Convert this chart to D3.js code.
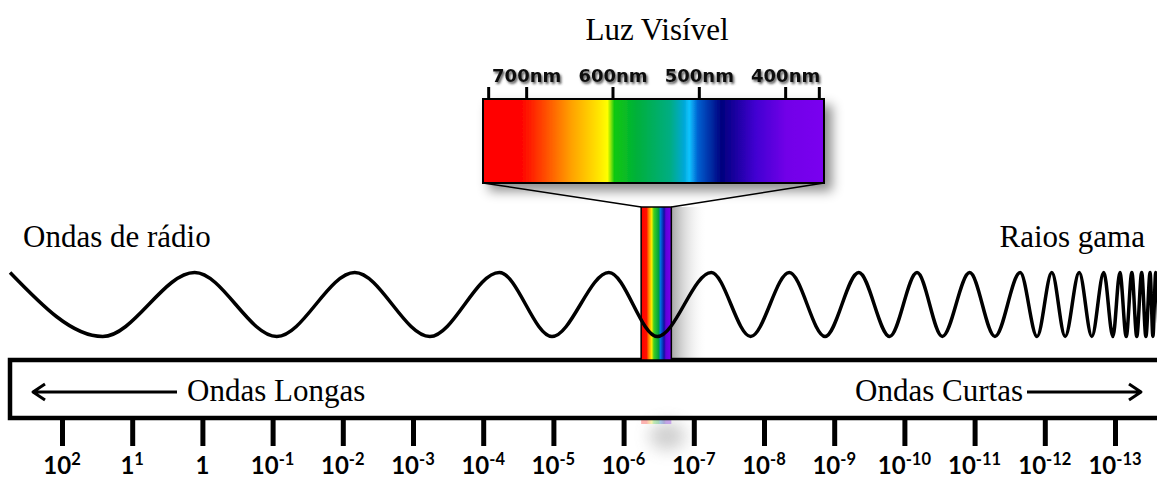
<!DOCTYPE html>
<html>
<head>
<meta charset="utf-8">
<script src="https://cdn.jsdelivr.net/npm/d3@7"></script>
<style>
  body { margin: 0; background: #fff; }
  svg { display: block; }
</style>
</head>
<body>
<div id="chart"></div>
<script>
var w = 1157;
var h = 481;

// wavelength axis: exponents of 10 (metres) and how the labels are written
var tickExps  = [2, 1, 0, -1, -2, -3, -4, -5, -6, -7, -8, -9, -10, -11, -12, -13];
var tickBases = ["10", "1", "1", "10", "10", "10", "10", "10", "10", "10", "10", "10", "10", "10", "10", "10"];
var tickSups  = ["2", "1", "", "-1", "-2", "-3", "-4", "-5", "-6", "-7", "-8", "-9", "-10", "-11", "-12", "-13"];

// visible light strip (nm)
var nmTicks  = [700, 600, 500, 400];
var nmEnds   = [744, 361];
var nmSpan   = [750, 355];

// where the visible band sits on the main axis (exponent units)
var visibleBand = [-6.25, -6.68];

// crests and troughs of the drawn wave, in exponent units (peak first, then alternating)
var waveExtrema = [2.74, 1.42, 0.11, -1.06, -2.17, -3.24, -4.23, -4.98, -5.79, -6.48,
                   -7.25, -7.81, -8.36, -8.87, -9.35, -9.79, -10.18, -10.54, -10.93, -11.29,
                   -11.65, -11.89, -12.10, -12.29, -12.49, -12.67, -12.84, -12.97, -13.07, -13.16,
                   -13.24, -13.31, -13.38, -13.44, -13.50, -13.54, -13.58, -13.63];

// labels
var titleText = "Luz Visível";
var leftName = "Ondas de rádio";
var rightName = "Raios gama";
var longText = "Ondas Longas";
var shortText = "Ondas Curtas";

var svg = d3.select("#chart")
    .append("svg")
    .attr("width", w)
    .attr("height", h);

var defs = svg.append("defs");

// spectrum colours
var spec = defs.append("linearGradient").attr("id", "spec")
    .attr("x1", "0%").attr("x2", "100%").attr("y1", "0%").attr("y2", "0%");
[[0, "#ff0000"], [0.11, "#ff0000"], [0.18, "#ff4a00"], [0.26, "#ffa200"], [0.34, "#ffe600"],
 [0.365, "#ffff00"], [0.385, "#10c810"], [0.45, "#00b03a"], [0.55, "#00ad84"], [0.59, "#00a8d8"],
 [0.605, "#10c4ff"], [0.63, "#0060d0"], [0.70, "#00007e"], [0.80, "#4200d2"], [0.89, "#7200e8"],
 [1, "#7a00f0"]].forEach(function(s) {
    spec.append("stop").attr("offset", s[0]).attr("stop-color", s[1]);
});

var col = defs.append("linearGradient").attr("id", "col")
    .attr("x1", "0%").attr("x2", "100%").attr("y1", "0%").attr("y2", "0%");
[[0, "#ff0000"], [0.18, "#ff1000"], [0.25, "#ff8000"], [0.35, "#ffee00"], [0.42, "#40d020"],
 [0.58, "#00a040"], [0.64, "#0070e0"], [0.76, "#1010a0"], [0.82, "#6000d8"], [1, "#7a00f0"]].forEach(function(s) {
    col.append("stop").attr("offset", s[0]).attr("stop-color", s[1]);
});

var colShade = defs.append("linearGradient").attr("id", "colShade")
    .attr("x1", "0%").attr("x2", "100%");
colShade.append("stop").attr("offset", 0).attr("stop-color", "#888").attr("stop-opacity", 0.75);
colShade.append("stop").attr("offset", 1).attr("stop-color", "#fff").attr("stop-opacity", 0);

defs.append("filter").attr("id", "boxShadow")
    .attr("x", "-10%").attr("y", "-20%").attr("width", "130%").attr("height", "160%")
  .append("feDropShadow")
    .attr("dx", 7).attr("dy", 7).attr("stdDeviation", 6)
    .attr("flood-color", "#000").attr("flood-opacity", 0.45);

defs.append("filter").attr("id", "textShadow")
  .append("feDropShadow")
    .attr("dx", 1.5).attr("dy", 2).attr("stdDeviation", 1.3)
    .attr("flood-color", "#333").attr("flood-opacity", 0.8);

defs.append("filter").attr("id", "blur")
    .attr("x", "-100%").attr("y", "-100%").attr("width", "300%").attr("height", "300%")
  .append("feGaussianBlur").attr("stdDeviation", 8);

// scales
var xScale = d3.scaleLinear().domain([2, -13]).range([62, 1115]);
var nmScale = d3.scaleLinear().domain(nmSpan).range([483, 824]);
var yWave = d3.scaleLinear().domain([-1, 1]).range([336.5, 272.5]);

var boxTop = 360, boxBottom = 418;
var specTop = 99, specBottom = 183;
var colTop = 207;

// shading to the right of the rainbow column
svg.append("rect")
    .attr("x", xScale(visibleBand[1]))
    .attr("y", colTop)
    .attr("width", 36)
    .attr("height", boxTop - colTop)
    .style("fill", "url(#colShade)");

// reflection under the main box
svg.append("ellipse")
    .attr("cx", xScale(visibleBand[1]) - 4).attr("cy", 436)
    .attr("rx", 18).attr("ry", 14)
    .style("fill", "#888").style("opacity", 0.4)
    .attr("filter", "url(#blur)");
svg.append("rect")
    .attr("x", xScale(visibleBand[0]))
    .attr("y", boxBottom + 2)
    .attr("width", xScale(visibleBand[1]) - xScale(visibleBand[0]))
    .attr("height", 4)
    .style("fill", "url(#col)").style("opacity", 0.3);

// visible spectrum box
svg.append("rect")
    .attr("x", nmScale(nmSpan[0]))
    .attr("y", specTop)
    .attr("width", nmScale(nmSpan[1]) - nmScale(nmSpan[0]))
    .attr("height", specBottom - specTop)
    .attr("filter", "url(#boxShadow)")
    .style("fill", "url(#spec)")
    .style("stroke", "#000")
    .style("stroke-width", 2);

// nm ticks
var nmAxis = svg.append("g")
    .attr("transform", "translate(0," + specTop + ")")
    .call(d3.axisTop(nmScale)
        .tickValues(nmEnds.concat(nmTicks))
        .tickSize(12)
        .tickPadding(5)
        .tickFormat(function(d) { return nmTicks.indexOf(d) >= 0 ? d + "nm" : ""; }));
nmAxis.select(".domain").remove();
nmAxis.selectAll("line").style("stroke", "#000").style("stroke-width", 3);
nmAxis.selectAll("text")
    .style("font-family", "'DejaVu Sans', sans-serif")
    .style("font-weight", "bold")
    .style("font-size", "18px")
    .style("fill", "#111")
    .attr("filter", "url(#textShadow)");

// lines from spectrum box down to the column
svg.append("line")
    .attr("x1", nmScale(nmSpan[0])).attr("y1", specBottom)
    .attr("x2", xScale(visibleBand[0])).attr("y2", colTop)
    .style("stroke", "#000").style("stroke-width", 1.5);
svg.append("line")
    .attr("x1", nmScale(nmSpan[1])).attr("y1", specBottom)
    .attr("x2", xScale(visibleBand[1])).attr("y2", colTop)
    .style("stroke", "#000").style("stroke-width", 1.5);

// main box (open on the right)
svg.append("path")
    .attr("d", "M" + (w + 10) + "," + boxTop + "H10V" + boxBottom + "H" + (w + 10))
    .style("fill", "none")
    .style("stroke", "#000")
    .style("stroke-width", 4.5);

// rainbow column
svg.append("rect")
    .attr("x", xScale(visibleBand[0]))
    .attr("y", colTop)
    .attr("width", xScale(visibleBand[1]) - xScale(visibleBand[0]))
    .attr("height", boxTop - colTop)
    .style("fill", "url(#col)")
    .style("stroke", "#000")
    .style("stroke-width", 1.5);

// the wave
var wave = d3.line()
    .x(function(d) { return xScale(d); })
    .y(function(d, i) { return yWave(i % 2 === 0 ? 1 : -1); })
    .curve(d3.curveMonotoneX);

svg.append("path")
    .datum(waveExtrema)
    .attr("d", wave)
    .style("fill", "none")
    .style("stroke", "#000")
    .style("stroke-width", 3.5)
    .style("stroke-linejoin", "round");

// main axis ticks
var axis = svg.append("g")
    .attr("transform", "translate(0," + (boxBottom + 2) + ")")
    .call(d3.axisBottom(xScale).tickValues(tickExps).tickSize(26).tickFormat(""));
axis.select(".domain").remove();
axis.selectAll("line").style("stroke", "#000").style("stroke-width", 5);

// tick labels with superscripts
var lab = svg.append("g").selectAll("text")
    .data(tickExps)
    .enter().append("text")
    .attr("x", function(d) { return xScale(d); })
    .attr("y", 474)
    .attr("text-anchor", "middle")
    .style("font-family", "Lato, 'Open Sans', sans-serif")
    .style("font-weight", "bold")
    .style("fill", "#000");
lab.append("tspan")
    .style("font-size", "24px")
    .text(function(d, i) { return tickBases[i]; });
lab.append("tspan")
    .attr("dy", -9)
    .style("font-size", "16.5px")
    .text(function(d, i) { return tickSups[i]; });

// text
var serif = "'Liberation Serif', 'Times New Roman', serif";
svg.append("text")
    .attr("x", 657).attr("y", 40)
    .attr("text-anchor", "middle")
    .style("font-family", serif).style("font-size", "31px")
    .text(titleText);
svg.append("text")
    .attr("x", 23).attr("y", 247)
    .style("font-family", serif).style("font-size", "31px")
    .text(leftName);
svg.append("text")
    .attr("x", 1145).attr("y", 247)
    .attr("text-anchor", "end")
    .style("font-family", serif).style("font-size", "31px")
    .text(rightName);
svg.append("text")
    .attr("x", 187).attr("y", 401)
    .style("font-family", serif).style("font-size", "31px")
    .text(longText);
svg.append("text")
    .attr("x", 1023).attr("y", 401)
    .attr("text-anchor", "end")
    .style("font-family", serif).style("font-size", "31px")
    .text(shortText);

// arrows
var arrowY = 392;
svg.append("path")
    .attr("d", "M177," + arrowY + "H33M45," + (arrowY - 8) + "L33," + arrowY + "L45," + (arrowY + 8))
    .style("fill", "none").style("stroke", "#000").style("stroke-width", 3)
    .style("stroke-linejoin", "round");
svg.append("path")
    .attr("d", "M1027," + arrowY + "H1141M1129," + (arrowY - 8) + "L1141," + arrowY + "L1129," + (arrowY + 8))
    .style("fill", "none").style("stroke", "#000").style("stroke-width", 3)
    .style("stroke-linejoin", "round");
</script>
</body>
</html>
